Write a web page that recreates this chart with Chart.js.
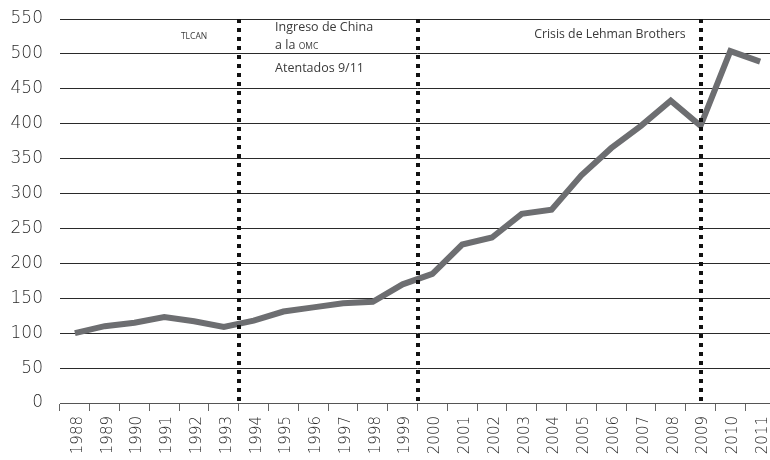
<!DOCTYPE html>
<html>
<head>
<meta charset="utf-8">
<script src="https://cdn.jsdelivr.net/npm/chart.js@4"></script>
<style>
  html, body { margin: 0; padding: 0; background: #ffffff; overflow: hidden; }
  #wrap { width: 770px; height: 460px; position: relative; overflow: hidden; }
</style>
</head>
<body>
<div id="wrap"><canvas id="c" width="775" height="460"></canvas></div>
<script>
const years = ["1988","1989","1990","1991","1992","1993","1994","1995","1996","1997","1998","1999",
               "2000","2001","2002","2003","2004","2005","2006","2007","2008","2009","2010","2011"];
const values = [100, 110, 115, 123, 117, 109, 118, 131, 137, 143, 145, 170,
                185, 227, 237, 271, 277, 326, 365, 397, 433, 397, 504, 489];
const yTicks = [0, 50, 100, 150, 200, 250, 300, 350, 400, 450, 500, 550];

// event markers: position on the category axis (index, fractional allowed)
const markerPositions = [5.5, 11.5, 21];

// annotation texts
const annotations = [
  { parts: [["TLCAN", 8.5]], x: 4.0, y: 526, align: "center" },
  { parts: [["Ingreso de China", 12.5]], x: 6.72, y: 539, align: "left" },
  { parts: [["a la ", 12.5], ["OMC", 8.5]], x: 6.72, y: 513, align: "left" },
  { parts: [["Atentados 9/11", 12.5]], x: 6.72, y: 480, align: "left" },
  { parts: [["Crisis de Lehman Brothers", 12.3]], x: 20.5, y: 529, align: "right" }
];

const annoFont = "'Open Sans', 'DejaVu Sans', sans-serif";

const overlay = {
  id: "overlay",
  afterDatasetsDraw(chart) {
    const ctx = chart.ctx;
    const xs = chart.scales.x, ys = chart.scales.y;
    const top = chart.chartArea.top, bottom = chart.chartArea.bottom;
    ctx.save();
    ctx.strokeStyle = "#111111";
    ctx.lineWidth = 4;
    ctx.setLineDash([4, 5]);
    markerPositions.forEach(p => {
      const x = Math.round(xs.getPixelForValue(p));
      ctx.beginPath();
      ctx.moveTo(x, top);
      ctx.lineTo(x, bottom);
      ctx.stroke();
    });
    ctx.setLineDash([]);
    ctx.fillStyle = "#3a3a3a";
    ctx.textBaseline = "alphabetic";
    annotations.forEach(a => {
      let widths = a.parts.map(([t, s]) => { ctx.font = s + "px " + annoFont; return ctx.measureText(t).width; });
      const total = widths.reduce((m, w) => m + w, 0);
      let x = xs.getPixelForValue(a.x);
      if (a.align === "center") x -= total / 2;
      else if (a.align === "right") x -= total;
      const base = ys.getPixelForValue(a.y) + a.parts[0][1] * 0.36;
      ctx.textAlign = "left";
      a.parts.forEach(([t, s], i) => {
        ctx.font = s + "px " + annoFont;
        ctx.fillText(t, x, base);
        x += widths[i];
      });
    });
    ctx.restore();
  }
};

new Chart(document.getElementById("c"), {
  type: "line",
  data: {
    labels: years,
    datasets: [{
      data: values,
      borderColor: "#6d6e71",
      borderWidth: 6,
      pointRadius: 0,
      tension: 0,
      fill: false,
      borderJoinStyle: "miter",
      borderCapStyle: "butt"
    }]
  },
  options: {
    responsive: false,
    animation: false,
    devicePixelRatio: 1,
    layout: { padding: { top: 19, right: 0, bottom: 0, left: 0 } },
    plugins: { legend: { display: false }, tooltip: { enabled: false } },
    scales: {
      x: {
        type: "category",
        offset: true,
        grid: { display: true, drawOnChartArea: false, drawTicks: true, tickLength: 8, color: "#666666", offset: true },
        border: { display: true, color: "#555555", width: 1 },
        ticks: {
          minRotation: 90, maxRotation: 90, autoSkip: false,
          color: "#2a2a2a", padding: 5, labelOffset: 3,
          font: { family: "'DejaVu Sans', sans-serif", size: 15, weight: "200" }
        },
        afterFit(s) { s.height = 57; s.paddingLeft = 0; s.paddingRight = 0; }
      },
      y: {
        min: 0, max: 550,
        afterBuildTicks(s) { s.ticks = yTicks.map(v => ({ value: v })); },
        grid: { color: "#2a2a2a", lineWidth: 1, drawTicks: false },
        border: { display: false },
        ticks: {
          color: "#2a2a2a", padding: 17,
          font: { family: "'DejaVu Sans', sans-serif", size: 17, weight: "200" }
        },
        afterFit(s) { s.width = 60; s.paddingTop = 0; s.paddingBottom = 0; }
      }
    }
  },
  plugins: [overlay]
});
</script>
</body>
</html>
